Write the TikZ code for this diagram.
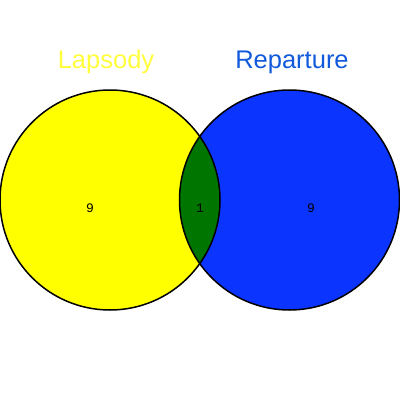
\documentclass[tikz,border=0pt]{standalone}
\usepackage{fontspec}
\setmainfont{Liberation Sans}
\newfontfamily\monofnt{Liberation Mono}
\definecolor{vyellow}{RGB}{255,255,0}
\definecolor{vblue}{RGB}{12,52,255}
\definecolor{vgreen}{RGB}{0,118,0}
\definecolor{tyellow}{RGB}{255,255,60}
\definecolor{tblue}{RGB}{18,90,220}
\begin{document}
\begin{tikzpicture}[x=1pt,y=-1pt,
  setcircle/.style={circle,minimum size=220pt,inner sep=0pt,outer sep=0pt},
  count/.style={font=\monofnt\fontsize{13}{15}\selectfont,text=black},
  title/.style={font=\fontsize{25.5}{30}\selectfont}]
\useasboundingbox (0,0) rectangle (400,400);
\fill[vyellow] (110,200) circle (110);
\fill[vblue] (289.5,200) circle (110);
\begin{scope}
  \clip (110,200) circle (110);
  \fill[vgreen] (289.5,200) circle (110);
\end{scope}
\node[setcircle,draw=black,line width=1.5pt] (A) at (110,200) {};
\node[setcircle,draw=black,line width=1.5pt] (B) at (289.5,200) {};
\node[count] (na) at (90,208.5) {9};
\node[count] (nab) at (200,208.5) {1};
\node[count] (nb) at (311,208.5) {9};
\node[title,text=tyellow] (ta) at (106,62) {Lapsody};
\node[title,text=tblue] (tb) at (292,62) {Reparture};
\end{tikzpicture}
\end{document}
